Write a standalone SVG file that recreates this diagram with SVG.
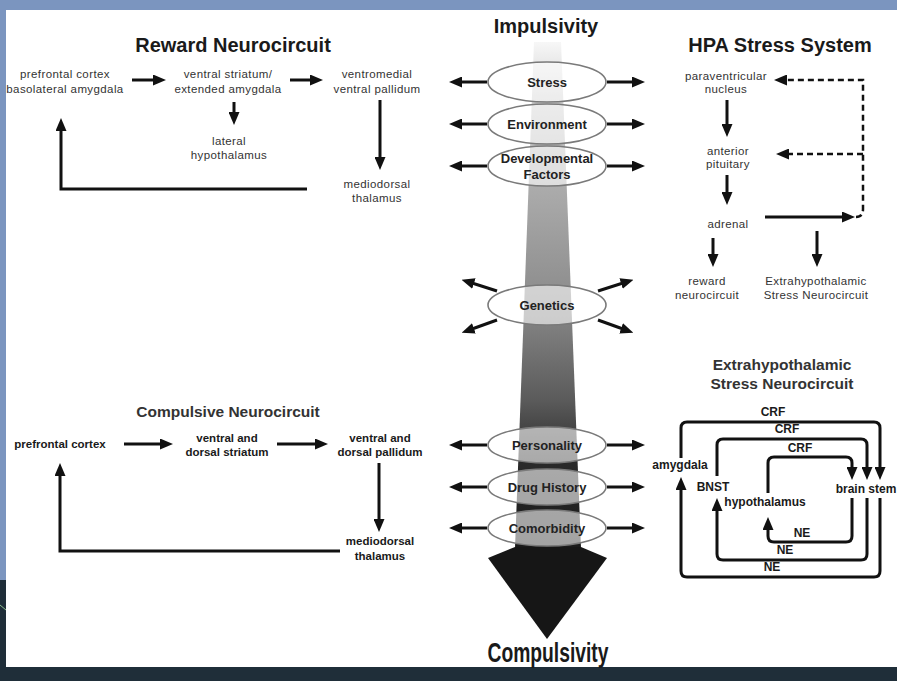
<svg xmlns="http://www.w3.org/2000/svg" width="897" height="681" viewBox="0 0 897 681">
<defs>
<style>
.t{font-family:"Liberation Sans",Arial,sans-serif;text-anchor:middle}
.h{font-size:20px;font-weight:bold;fill:#1a1a1a}
.s{font-size:15.5px;font-weight:bold;fill:#333}
.r{font-size:11.5px;letter-spacing:0.4px;fill:#333}
.b{font-size:11.5px;font-weight:bold;fill:#1a1a1a}
.e{font-size:13px;font-weight:bold;fill:#222}
.x{font-size:12px;font-weight:bold;fill:#1a1a1a}
.ln{fill:none;stroke:#111;stroke-width:3;marker-end:url(#ah)}
.pl{fill:none;stroke:#111;stroke-width:3}
.ds{fill:none;stroke:#111;stroke-width:2.5;stroke-dasharray:6 4}
.el{fill:#fff;fill-opacity:0.6;stroke:#7a7a7a;stroke-width:1.6}
</style>
<marker id="ah" markerUnits="userSpaceOnUse" markerWidth="13" markerHeight="11" refX="2" refY="5.5" orient="auto" viewBox="0 0 13 11"><path d="M0,0 L13,5.5 L0,11 Z" fill="#111"/></marker>
<linearGradient id="shaft" gradientUnits="userSpaceOnUse" x1="0" y1="42" x2="0" y2="548">
<stop offset="0" stop-color="#f7f7f7"/>
<stop offset="0.115" stop-color="#d0d0d0"/>
<stop offset="0.29" stop-color="#ababab"/>
<stop offset="0.51" stop-color="#8c8c8c"/>
<stop offset="0.71" stop-color="#5a5a5a"/>
<stop offset="0.83" stop-color="#2a2a2a"/>
<stop offset="1" stop-color="#1a1a1a"/>
</linearGradient>
</defs>

<!-- frame -->
<rect x="0" y="0" width="897" height="681" fill="#7b95bf"/>
<rect x="0" y="580" width="6" height="101" fill="#1f2e39"/>
<rect x="0" y="667" width="897" height="14" fill="#1f2e39"/>
<line x1="0" y1="605" x2="6" y2="610" stroke="#8fbf8f" stroke-width="1"/>
<rect x="6" y="10" width="891" height="657" fill="#ffffff"/>

<!-- central arrow -->
<g id="central-arrow">
<path d="M534,42 L561,42 L581,548 L515,548 Z" fill="url(#shaft)"/>
<path d="M515,547 L581,547 L607,558 L547,639 L488,558 Z" fill="#161616"/>
</g>

<!-- titles -->
<g id="titles">
<text class="t h" x="546" y="33">Impulsivity</text>
<text class="t h" x="233" y="52">Reward Neurocircuit</text>
<text class="t h" x="780" y="52">HPA Stress System</text>
<text class="t s" x="228" y="417">Compulsive Neurocircuit</text>
<text class="t s" x="782" y="370">Extrahypothalamic</text>
<text class="t s" x="782" y="389">Stress Neurocircuit</text>
<text class="t" x="548" y="662" font-size="28" font-weight="bold" fill="#1a1a1a" textLength="121" lengthAdjust="spacingAndGlyphs">Compulsivity</text>
</g>

<!-- factor ellipses -->
<g id="stress"><ellipse class="el" cx="547" cy="82" rx="59" ry="20"/><text class="t e" x="547" y="87">Stress</text></g>
<g id="environment"><ellipse class="el" cx="547" cy="124" rx="59" ry="20"/><text class="t e" x="547" y="129">Environment</text></g>
<g id="developmental"><ellipse class="el" cx="547" cy="166" rx="59" ry="20"/><text class="t e" x="547" y="163">Developmental</text><text class="t e" x="547" y="179">Factors</text></g>
<g id="genetics"><ellipse class="el" cx="547" cy="305" rx="59" ry="20"/><text class="t e" x="547" y="310">Genetics</text></g>
<g id="personality"><ellipse class="el" cx="547" cy="445" rx="59" ry="18"/><text class="t e" x="547" y="450">Personality</text></g>
<g id="drug-history"><ellipse class="el" cx="547" cy="487" rx="59" ry="18"/><text class="t e" x="547" y="492">Drug History</text></g>
<g id="comorbidity"><ellipse class="el" cx="547" cy="528" rx="59" ry="18"/><text class="t e" x="547" y="533">Comorbidity</text></g>

<!-- reward neurocircuit nodes -->
<g id="rw-pfc"><text class="t r" x="65" y="78">prefrontal cortex</text><text class="t r" x="65" y="93">basolateral amygdala</text></g>
<g id="rw-vs"><text class="t r" x="228" y="78">ventral striatum/</text><text class="t r" x="228" y="93">extended amygdala</text></g>
<g id="rw-vp"><text class="t r" x="377" y="78">ventromedial</text><text class="t r" x="377" y="93">ventral pallidum</text></g>
<g id="rw-lh"><text class="t r" x="229" y="145">lateral</text><text class="t r" x="229" y="159">hypothalamus</text></g>
<g id="rw-md"><text class="t r" x="377" y="188">mediodorsal</text><text class="t r" x="377" y="202">thalamus</text></g>

<!-- compulsive neurocircuit nodes -->
<g id="cp-pfc"><text class="t b" x="60" y="448">prefrontal cortex</text></g>
<g id="cp-ds"><text class="t b" x="227" y="442">ventral and</text><text class="t b" x="227" y="456">dorsal striatum</text></g>
<g id="cp-dp"><text class="t b" x="380" y="442">ventral and</text><text class="t b" x="380" y="456">dorsal pallidum</text></g>
<g id="cp-md"><text class="t b" x="380" y="545">mediodorsal</text><text class="t b" x="380" y="560">thalamus</text></g>

<!-- HPA nodes -->
<g id="hpa-pvn"><text class="t r" x="726" y="80">paraventricular</text><text class="t r" x="726" y="93">nucleus</text></g>
<g id="hpa-ap"><text class="t r" x="728" y="155">anterior</text><text class="t r" x="728" y="168">pituitary</text></g>
<g id="hpa-adrenal"><text class="t r" x="728" y="228">adrenal</text></g>
<g id="hpa-reward"><text class="t r" x="707" y="285">reward</text><text class="t r" x="707" y="299">neurocircuit</text></g>
<g id="hpa-extra"><text class="t r" x="816" y="285">Extrahypothalamic</text><text class="t r" x="816" y="299">Stress Neurocircuit</text></g>

<!-- extrahypothalamic nodes -->
<g id="ex-amygdala"><text class="t x" x="680" y="469">amygdala</text></g>
<g id="ex-bnst"><text class="t x" x="713" y="491">BNST</text></g>
<g id="ex-hypothalamus"><text class="t x" x="765" y="506">hypothalamus</text></g>
<g id="ex-brainstem"><text class="t x" x="866" y="493">brain stem</text></g>

<!-- connectors -->
<g id="connectors">
<!-- reward -->
<line class="ln" x1="132" y1="80" x2="155" y2="80"/>
<line class="ln" x1="290" y1="80" x2="312" y2="80"/>
<line class="ln" x1="234" y1="102" x2="234" y2="114"/>
<line class="ln" x1="380" y1="100" x2="380" y2="159"/>
<path class="ln" d="M307,189 H61 V129"/>
<!-- compulsive -->
<line class="ln" x1="124" y1="444" x2="162" y2="444"/>
<line class="ln" x1="277" y1="444" x2="317" y2="444"/>
<line class="ln" x1="379" y1="463" x2="379" y2="521"/>
<path class="ln" d="M340,551 H60 V474"/>
<!-- ellipse side arrows -->
<line class="ln" x1="487" y1="82" x2="460" y2="82"/>
<line class="ln" x1="607" y1="82" x2="634" y2="82"/>
<line class="ln" x1="487" y1="124" x2="460" y2="124"/>
<line class="ln" x1="607" y1="124" x2="634" y2="124"/>
<line class="ln" x1="487" y1="166" x2="460" y2="166"/>
<line class="ln" x1="607" y1="166" x2="634" y2="166"/>
<line class="ln" x1="487" y1="445" x2="460" y2="445"/>
<line class="ln" x1="607" y1="445" x2="634" y2="445"/>
<line class="ln" x1="487" y1="487" x2="460" y2="487"/>
<line class="ln" x1="607" y1="487" x2="634" y2="487"/>
<line class="ln" x1="487" y1="528" x2="460" y2="528"/>
<line class="ln" x1="607" y1="528" x2="634" y2="528"/>
<!-- genetics diagonals -->
<line class="ln" x1="497" y1="291" x2="472" y2="283"/>
<line class="ln" x1="497" y1="320" x2="472" y2="329"/>
<line class="ln" x1="598" y1="291" x2="623" y2="283"/>
<line class="ln" x1="598" y1="320" x2="623" y2="329"/>
<!-- HPA -->
<line class="ln" x1="727" y1="100" x2="727" y2="126"/>
<line class="ln" x1="727" y1="175" x2="727" y2="194"/>
<line class="ln" x1="765" y1="217" x2="844" y2="217"/>
<line class="ln" x1="713" y1="238" x2="713" y2="256"/>
<line class="ln" x1="817" y1="231" x2="817" y2="256"/>
<path class="ds" d="M856,217 Q863,217 863,209 V80 H785" marker-end="url(#ah)"/>
<path class="ds" d="M863,154 H787" marker-end="url(#ah)"/>
<!-- extrahypothalamic CRF -->
<path class="ln" d="M681,458 V428 Q681,422 687,422 H874 Q880,422 880,428 V469"/>
<path class="ln" d="M717,476 V445 Q717,439 723,439 H861 Q867,439 867,445 V469"/>
<path class="ln" d="M768,493 V463 Q768,457 774,457 H846 Q852,457 852,463 V469"/>
<!-- extrahypothalamic NE -->
<path class="ln" d="M852,498 V536 Q852,542 846,542 H774 Q768,542 768,536 V528"/>
<path class="ln" d="M867,498 V554 Q867,560 861,560 H723 Q717,560 717,554 V509"/>
<path class="ln" d="M880,498 V571 Q880,577 874,577 H687 Q681,577 681,571 V488"/>
</g>

<g id="connector-labels">
<text class="t x" x="773" y="416">CRF</text>
<text class="t x" x="787" y="433">CRF</text>
<text class="t x" x="800" y="452">CRF</text>
<text class="t x" x="802" y="537">NE</text>
<text class="t x" x="785" y="554">NE</text>
<text class="t x" x="772" y="571">NE</text>
</g>
</svg>
